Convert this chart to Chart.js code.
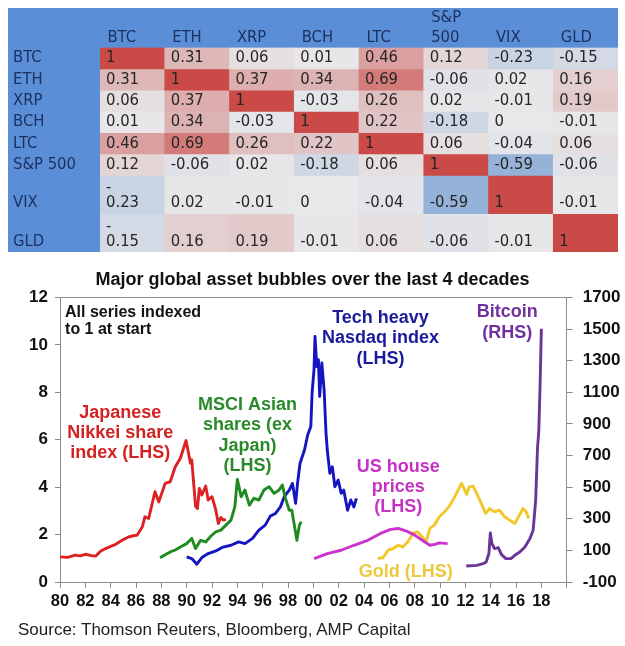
<!DOCTYPE html>
<html>
<head>
<meta charset="utf-8">
<script src="https://cdn.jsdelivr.net/npm/chart.js@4.4.1/dist/chart.umd.min.js"></script>
<style>
  body { margin: 0; background: #fff; width: 625px; height: 646px; position: relative; overflow: hidden; }
  #corr { position: absolute; left: 8px; top: 8px; }
  #bubbles { position: absolute; left: 0; top: 262px; }
  #source { position: absolute; left: 18px; top: 620px; font: 17px "Liberation Sans", Arial, sans-serif; color: #222; }
</style>
</head>
<body>
<canvas id="corr" width="610" height="244"></canvas>
<canvas id="bubbles" width="625" height="384"></canvas>
<div id="source">Source: Thomson Reuters, Bloomberg, AMP Capital</div>
<script>
// correlation table
const assets = ['BTC', 'ETH', 'XRP', 'BCH', 'LTC', 'S&P 500', 'VIX', 'GLD'];
const corrBTC = [1, 0.31, 0.06, 0.01, 0.46, 0.12, -0.23, -0.15];
const corrETH = [0.31, 1, 0.37, 0.34, 0.69, -0.06, 0.02, 0.16];
const corrXRP = [0.06, 0.37, 1, -0.03, 0.26, 0.02, -0.01, 0.19];
const corrBCH = [0.01, 0.34, -0.03, 1, 0.22, -0.18, 0, -0.01];
const corrLTC = [0.46, 0.69, 0.26, 0.22, 1, 0.06, -0.04, 0.06];
const corrSPX = [0.12, -0.06, 0.02, -0.18, 0.06, 1, -0.59, -0.06];
const corrVIX = [-0.23, 0.02, -0.01, 0, -0.04, -0.59, 1, -0.01];
const corrGLD = [-0.15, 0.16, 0.19, -0.01, 0.06, -0.06, -0.01, 1];

// bubbles chart: [year, index] pairs (bitcoin on the right hand scale)
const nikkei = [[1980, 1.06], [1980.6, 1.04], [1981.2, 1.13], [1981.6, 1.1], [1982, 1.17], [1982.4, 1.12], [1982.8, 1.09],
  [1983.2, 1.3], [1983.6, 1.41], [1984, 1.5], [1984.4, 1.59], [1984.9, 1.76], [1985.4, 1.9], [1985.8, 1.95],
  [1986.1, 1.98], [1986.5, 2.33], [1986.7, 2.75], [1987, 2.68], [1987.5, 3.81], [1987.8, 3.38], [1988.3, 4.16],
  [1988.7, 4.23], [1989.1, 4.86], [1989.5, 5.22], [1989.95, 5.97], [1990.3, 5.01], [1990.4, 5.15], [1990.7, 3.2],
  [1990.85, 3.1], [1991, 3.95], [1991.2, 3.67], [1991.5, 4.05], [1991.7, 3.46], [1992, 3.6], [1992.3, 3.03],
  [1992.5, 2.47], [1992.7, 2.72], [1992.9, 2.61], [1993.1, 2.64]];
const msciAsia = [[1987.9, 1.02], [1988.3, 1.15], [1988.7, 1.27], [1989.1, 1.35], [1989.5, 1.48], [1990, 1.62],
  [1990.4, 1.84], [1990.7, 1.41], [1991.1, 1.76], [1991.5, 1.69], [1991.9, 1.93], [1992.3, 2.12], [1992.7, 2.19],
  [1993.1, 2.4], [1993.5, 2.61], [1993.8, 3.17], [1994, 4.33], [1994.3, 3.6], [1994.6, 3.88], [1994.95, 3.24],
  [1995.3, 3.53], [1995.7, 3.46], [1996.1, 3.88], [1996.5, 4.02], [1996.9, 3.74], [1997.3, 3.88], [1997.55, 4.09],
  [1997.8, 3.53], [1998.1, 3.03], [1998.3, 3.03], [1998.7, 1.76], [1998.9, 2.4], [1999.05, 2.54]];
const nasdaq = [[1990, 1.06], [1990.4, 0.99], [1990.8, 0.75], [1991.2, 1.03], [1991.7, 1.2], [1992.3, 1.31],
  [1992.8, 1.46], [1993.5, 1.55], [1994.1, 1.69], [1994.6, 1.62], [1995.2, 1.84], [1995.7, 2.19], [1996.2, 2.4],
  [1996.6, 2.78], [1997, 2.89], [1997.4, 3.17], [1997.7, 3.6], [1998.1, 3.88], [1998.35, 4.16], [1998.6, 3.32],
  [1998.75, 4.16], [1998.95, 5.01], [1999.3, 5.57], [1999.55, 6.2], [1999.8, 6.56], [1999.9, 7.97], [2000.05, 8.95],
  [2000.13, 10.36], [2000.27, 9.09], [2000.4, 9.38], [2000.5, 7.83], [2000.67, 9.24], [2000.85, 8.11], [2001, 6.28],
  [2001.1, 5.57], [2001.3, 4.59], [2001.5, 4.86], [2001.7, 4.02], [2001.96, 4.3], [2002.2, 3.74], [2002.4, 3.88],
  [2002.7, 3.03], [2002.96, 3.46], [2003.2, 3.17], [2003.4, 3.53]];
const usHouse = [[2000.06, 0.99], [2001.1, 1.2], [2002.2, 1.34], [2003.2, 1.55], [2004.3, 1.76], [2005.3, 2.05],
  [2006.1, 2.22], [2006.7, 2.26], [2007.3, 2.16], [2008, 1.98], [2008.6, 1.76], [2009.2, 1.55], [2009.6, 1.59],
  [2009.95, 1.65], [2010.6, 1.62]];
const gold = [[2005.1, 0.99], [2005.5, 1.03], [2005.9, 1.34], [2006.3, 1.41], [2006.7, 1.55], [2007.05, 1.48],
  [2007.45, 1.69], [2007.85, 2.05], [2008.2, 2.12], [2008.6, 1.9], [2008.9, 1.69], [2009.2, 2.26], [2009.55, 2.4],
  [2009.95, 2.75], [2010.35, 2.96], [2010.7, 3.17], [2011.1, 3.53], [2011.5, 3.95], [2011.7, 4.16], [2012.1, 3.7],
  [2012.3, 4.0], [2012.6, 4.05], [2012.9, 3.74], [2013.25, 3.32], [2013.6, 2.89], [2013.9, 3.1], [2014.3, 2.96],
  [2014.7, 3.03], [2015.1, 2.75], [2015.5, 2.61], [2015.9, 2.47], [2016.2, 2.75], [2016.55, 3.1], [2016.8, 2.96],
  [2017, 2.68]];
const bitcoin = [[2012.07, 1], [2012.9, 5], [2013.4, 16], [2013.65, 27], [2013.86, 80], [2013.97, 210], [2014.1, 143],
  [2014.3, 111], [2014.6, 117], [2014.84, 75], [2015.2, 48], [2015.6, 48], [2015.9, 69], [2016.3, 90], [2016.7, 121],
  [2017.1, 175], [2017.35, 227], [2017.55, 417], [2017.7, 754], [2017.8, 860], [2017.9, 1155], [2018, 1503]];

const corr = [corrBTC, corrETH, corrXRP, corrBCH, corrLTC, corrSPX, corrVIX, corrGLD];

Chart.defaults.animation = false;
Chart.defaults.font.family = '"Liberation Sans", Arial, sans-serif';

// ---------- correlation table ----------
const tableFont = '"DejaVu Sans Condensed", "DejaVu Sans", Verdana, sans-serif';
const headBlue = '#5a8fd8';
const headText = '#1c2f5e';
const narrowCols = ['BTC']; // narrow column in the sheet, so negative numbers wrap there
const wraps = (r, c) => corr[r][c] < 0 && narrowCols.includes(assets[c]);
const rowH = assets.map((_, r) => corr[r].some((v, c) => wraps(r, c)) ? 1.8 : 1);
const rowEnd = [];
rowH.reduce((s, h, i) => (rowEnd[i] = s + h), 0);

function cellColor(v) {
  const mid = [232, 232, 234], pos = [201, 74, 70], neg = [92, 140, 206];
  const end = v >= 0 ? pos : neg, t = Math.abs(v);
  return 'rgb(' + mid.map((m, i) => Math.round(m + (end[i] - m) * t)).join(',') + ')';
}

const noPad = (axis) => {
  axis.paddingTop = 0; axis.paddingBottom = 0; axis.paddingLeft = 0; axis.paddingRight = 0;
};

const tableBg = {
  id: 'tableBg',
  beforeDraw(chart) {
    const ctx = chart.ctx;
    ctx.save();
    ctx.fillStyle = headBlue;
    ctx.fillRect(0, 0, chart.width, chart.height);
    ctx.restore();
  }
};

const cellText = {
  id: 'cellText',
  afterDatasetsDraw(chart) {
    const ctx = chart.ctx, y = chart.scales.y;
    ctx.save();
    ctx.font = '16.5px ' + tableFont;
    ctx.fillStyle = '#262626';
    ctx.textBaseline = 'middle';
    ctx.textAlign = 'left';
    corr.forEach((row, r) => {
      const meta = chart.getDatasetMeta(r);
      const ty = y.getPixelForValue(rowEnd[r] - 0.5);
      row.forEach((v, c) => {
        const bar = meta.data[c];
        const tx = bar.x - bar.width / 2 + 6;
        if (wraps(r, c)) {
          ctx.fillText('-', tx, ty - 15);
          ctx.fillText(String(-v), tx, ty);
        } else {
          ctx.fillText(String(v), tx, ty);
        }
      });
    });
    ctx.restore();
  }
};

new Chart(document.getElementById('corr'), {
  type: 'bar',
  data: {
    labels: assets,
    datasets: assets.map((name, r) => ({
      label: name,
      data: assets.map(() => [rowEnd[r] - rowH[r], rowEnd[r]]),
      backgroundColor: corr[r].map(cellColor),
      borderWidth: 0,
      barPercentage: 1,
      categoryPercentage: 1,
      grouped: false
    }))
  },
  options: {
    responsive: false,
    layout: { padding: { left: 5, right: 0, top: 0, bottom: 0 } },
    plugins: { legend: { display: false }, tooltip: { enabled: false } },
    scales: {
      x: {
        position: 'top',
        grid: { display: false, drawTicks: false },
        border: { display: false },
        ticks: {
          align: 'start',
          labelOffset: -25,
          padding: 0,
          color: headText,
          font: { family: tableFont, size: 16.5 },
          maxRotation: 0,
          autoSkip: false,
          callback: (v, i) => assets[i] === 'S&P 500' ? ['S&P', '500'] : assets[i]
        },
        afterFit: (axis) => { axis.height = 39.5; noPad(axis); }
      },
      y: {
        reverse: true,
        min: 0,
        max: rowEnd[rowEnd.length - 1],
        grid: { display: false, drawTicks: false },
        border: { display: false },
        afterBuildTicks: (axis) => { axis.ticks = rowEnd.map(e => ({ value: e - 0.5 })); },
        ticks: {
          crossAlign: 'far',
          color: headText,
          font: { family: tableFont, size: 16.5 },
          autoSkip: false,
          callback: (v, i) => assets[i]
        },
        afterFit: (axis) => { axis.width = 87; noPad(axis); }
      }
    }
  },
  plugins: [tableBg, cellText]
});

// ---------- bubbles chart ----------
const series = [
  { label: 'Japanese Nikkei share index', pts: nikkei, color: '#dc2222', axis: 'y' },
  { label: 'MSCI Asian shares ex Japan', pts: msciAsia, color: '#1f8a1f', axis: 'y' },
  { label: 'Nasdaq', pts: nasdaq, color: '#1414c0', axis: 'y' },
  { label: 'US house prices', pts: usHouse, color: '#cc33cc', axis: 'y' },
  { label: 'Gold', pts: gold, color: '#f2c72a', axis: 'y' },
  { label: 'Bitcoin', pts: bitcoin, color: '#6a3596', axis: 'y2' }
];

// text labels, placed in data units (year, left-hand index)
const notes = [
  { lines: ['All series indexed', 'to 1 at start'], x: 1980.4, y: 11.37, color: '#111', size: 16, align: 'left', lh: 17 },
  { lines: ['Japanese', 'Nikkei share', 'index (LHS)'], x: 1984.75, y: 7.13, color: '#d42222', size: 18, align: 'center', lh: 20 },
  { lines: ['MSCI Asian', 'shares (ex', 'Japan)', '(LHS)'], x: 1994.8, y: 7.47, color: '#2a8a2a', size: 18, align: 'center', lh: 20.3 },
  { lines: ['Tech heavy', 'Nasdaq index', '(LHS)'], x: 2005.3, y: 11.15, color: '#1a1a9a', size: 18, align: 'center', lh: 20.5 },
  { lines: ['Bitcoin', '(RHS)'], x: 2015.3, y: 11.41, color: '#7030a0', size: 18, align: 'center', lh: 21 },
  { lines: ['US house', 'prices', '(LHS)'], x: 2006.7, y: 4.85, color: '#c532c5', size: 18, align: 'center', lh: 20 },
  { lines: ['Gold (LHS)'], x: 2007.3, y: 0.41, color: '#ecc93c', size: 18, align: 'center', lh: 20 }
];

const noteLabels = {
  id: 'noteLabels',
  afterDatasetsDraw(chart) {
    const ctx = chart.ctx, sx = chart.scales.x, sy = chart.scales.y;
    ctx.save();
    ctx.textBaseline = 'middle';
    notes.forEach(n => {
      ctx.font = 'bold ' + n.size + 'px "Liberation Sans", Arial, sans-serif';
      ctx.fillStyle = n.color;
      ctx.textAlign = n.align;
      const px = sx.getPixelForValue(n.x), py = sy.getPixelForValue(n.y);
      n.lines.forEach((t, i) => ctx.fillText(t, px, py + i * n.lh));
    });
    ctx.restore();
  }
};

const axisGray = '#8c8c8c';
const tickFont = { size: 17, weight: 'bold' };

new Chart(document.getElementById('bubbles'), {
  type: 'line',
  data: {
    datasets: series.map(s => ({
      label: s.label,
      data: s.pts.map(([x, y]) => ({ x, y })),
      borderColor: s.color,
      backgroundColor: s.color,
      borderWidth: 2.9,
      borderJoinStyle: 'round',
      pointRadius: 0,
      tension: 0,
      fill: false,
      yAxisID: s.axis
    }))
  },
  options: {
    responsive: false,
    layout: { padding: { left: 0, right: 0, top: 0, bottom: 24 } },
    plugins: {
      legend: { display: false },
      tooltip: { enabled: false },
      title: {
        display: true,
        text: 'Major global asset bubbles over the last 4 decades',
        color: '#111',
        font: { size: 18, weight: 'bold' },
        padding: { top: 7, bottom: 7 }
      }
    },
    scales: {
      x: {
        type: 'linear',
        min: 1980,
        max: 2020,
        grid: { drawOnChartArea: false, tickLength: 6, color: axisGray },
        border: { color: axisGray },
        ticks: {
          stepSize: 2,
          color: '#111',
          font: { size: 16.5, weight: 'bold' },
          padding: 4,
          maxRotation: 0,
          autoSkip: false,
          callback: (v) => v === 2020 ? '' : String(v % 100).padStart(2, '0')
        },
        afterFit: (axis) => { axis.height = 40; }
      },
      xTop: {
        type: 'linear',
        position: 'top',
        min: 1980,
        max: 2020,
        grid: { display: false },
        border: { color: axisGray },
        ticks: { display: false },
        afterFit: (axis) => { axis.height = 0; }
      },
      y: {
        position: 'left',
        min: 0,
        max: 12,
        grid: { drawOnChartArea: false, tickLength: 5, color: axisGray },
        border: { color: axisGray },
        ticks: { stepSize: 2, color: '#111', font: tickFont, padding: 7 },
        afterFit: (axis) => { axis.width = 60; }
      },
      y2: {
        position: 'right',
        min: -100,
        max: 1700,
        grid: { drawOnChartArea: false, tickLength: 6, color: axisGray },
        border: { color: axisGray },
        ticks: { stepSize: 200, color: '#111', font: tickFont, padding: 10, callback: (v) => String(v) },
        afterFit: (axis) => { axis.width = 58.3; }
      }
    }
  },
  plugins: [noteLabels]
});
</script>
</body>
</html>
